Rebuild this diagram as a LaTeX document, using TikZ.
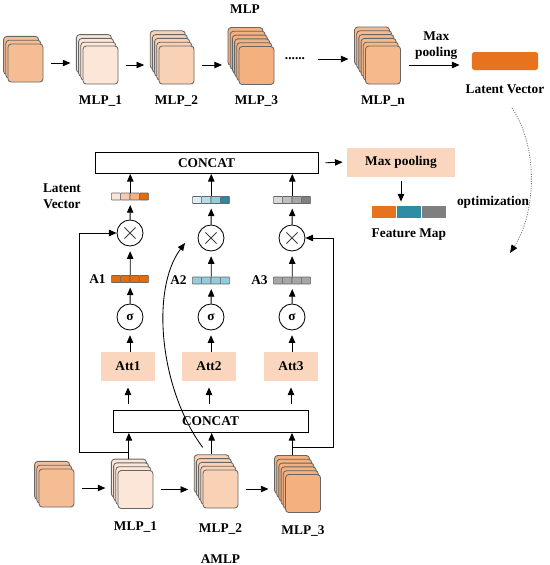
\documentclass[tikz,border=0pt]{standalone}
\usepackage{fontspec}
\setmainfont{Liberation Serif}
\usetikzlibrary{positioning,arrows.meta,calc}
\definecolor{pch0}{HTML}{F5BD94}
\definecolor{pch1}{HTML}{FBE6D8}
\definecolor{pch2}{HTML}{F9D2B6}
\definecolor{pch3}{HTML}{F4B07F}
\definecolor{pchn}{HTML}{F6B98C}
\definecolor{att}{HTML}{FAD6BE}
\definecolor{org}{HTML}{E8731F}
\definecolor{tea}{HTML}{2F8CA5}
\definecolor{gry}{HTML}{7F7F7F}
\definecolor{o1}{HTML}{FBE5D6}
\definecolor{o2}{HTML}{F8CBAD}
\definecolor{o3}{HTML}{F4B183}
\definecolor{o4}{HTML}{E46C0A}
\definecolor{b1}{HTML}{DAEEF3}
\definecolor{b2}{HTML}{B7DEE8}
\definecolor{b3}{HTML}{92CDDC}
\definecolor{b4}{HTML}{31859C}
\definecolor{g1}{HTML}{D9D9D9}
\definecolor{g2}{HTML}{BFBFBF}
\definecolor{g3}{HTML}{A6A6A6}
\definecolor{g4}{HTML}{808080}
\tikzset{
  lyr/.style={draw=black!60, rounded corners=0.8mm, minimum width=8.75mm, minimum height=9.5mm, inner sep=0pt},
  cel/.style={draw=black!60, line width=0.4pt, rounded corners=0.15mm, minimum width=2.325mm, minimum height=1.75mm, inner sep=0pt},
  seg/.style={minimum width=6mm, minimum height=3mm, inner sep=0pt},
  blk/.style={draw, minimum height=5.25mm, inner sep=2pt},
  soft/.style={fill=att, minimum height=7.25mm, inner sep=2pt},
  op/.style={draw, circle, minimum size=6.5mm, inner sep=0pt},
  mul/.style={op, path picture={\draw[black!75]
    ([shift={(-1.4mm,-1.4mm)}]path picture bounding box.center) -- ([shift={(1.4mm,1.4mm)}]path picture bounding box.center)
    ([shift={(-1.4mm,1.4mm)}]path picture bounding box.center) -- ([shift={(1.4mm,-1.4mm)}]path picture bounding box.center);}},
  arr/.style={-{Triangle[length=1.9mm,width=1.6mm]}},
  gap/.style={arr, shorten >=1.2mm},
  flow/.style={arr, shorten <=2mm, shorten >=1.4mm}}
\newcommand{\pile}[5]{%
  \foreach \k in {#4,...,1}
    \node[lyr, fill=#5] at (#2-2.2*\k,#3-3.8*\k) {};
  \node[lyr, fill=#5] (#1) at (#2,#3) {};
  \node[lyr, draw=none] (#1b) at (#2-2.2*#4,#3-3.8*#4) {};}
\newcommand{\cells}[4]{%
  \foreach \c [count=\i] in {#4}
    \node[cel, fill=\c] (#1-\i) at (#2+9.3*\i-23.25,#3) {};}

\begin{document}
\begin{tikzpicture}[x=0.25mm, y=-0.25mm, line width=0.6pt, font=\fontsize{9.5}{11.5}\selectfont\bfseries]
\useasboundingbox (0,0) rectangle (550,565);
\node (ttl) at (245,9) {MLP};
\pile{in0}{25.5}{63}{2}{pch0}
\pile{m1}{100.5}{65}{3}{pch1}
\pile{m2}{176.5}{65}{4}{pch2}
\pile{m3}{256.5}{65.5}{5}{pch3}
\node (dts) at (295,59) {......};
\pile{mn}{383}{65}{5}{pchn}
\node[below=1.5mm of m1] (lm1) {MLP\_1};
\node[below=1.5mm of m2] (lm2) {MLP\_2};
\node[below=1.5mm of m3] (lm3) {MLP\_3};
\node[below=1.5mm of mn] (lmn) {MLP\_n};
\draw[flow] (in0.east) -- (in0.east -| m1b.west);
\draw[flow] (m1.east) -- (m1.east -| m2b.west);
\draw[flow] (m2.east) -- (m2.east -| m3b.west);
\draw[flow] (dts.east) -- (dts.east -| mnb.west);
\node[fill=org, rounded corners=0.6mm, minimum width=16.5mm, minimum height=4.5mm] (lat) at (505,61) {};
\draw[arr, shorten <=2mm, shorten >=3mm] (mn.east) -- (mn.east -| lat.west) node[midway, above, align=center] (mxp) {Max\\pooling};
\node[below=2.2mm of lat] (latv) {Latent Vector};
\coordinate (oa) at (512,108);
\coordinate (ob) at (510,253);
\draw[draw=black!50, dash pattern=on 0.8pt off 0.9pt, -{Triangle[length=2mm,width=1.6mm,black]}] (oa) .. controls (540,150) and (535,215) .. (ob);
\node (opt) at (493,202) {optimization};

\node[blk, minimum width=55.75mm] (cct) at (206.5,163) {CONCAT};
\node[soft, minimum width=27mm] (mp) at (401,162) {Max pooling};
\draw[arr, shorten <=1.75mm, shorten >=1mm] (cct.east) -- (mp.west);
\node[seg, fill=org] (f1) at (384,212) {};
\node[seg, fill=tea, right=0pt of f1] (f2) {};
\node[seg, fill=gry, right=0pt of f2] (f3) {};
\draw[arr, shorten <=1mm, shorten >=1mm] (mp.south) -- (mp.south |- f2.north);
\node[below=1.3mm of f2] (fmap) {Feature Map};
\node[align=center] (lvl) at (62,196) {Latent\\Vector};

\cells{t1}{130}{196.5}{o1,o2,o3,o4}
\cells{t2}{211}{200}{b1,b2,b3,b4}
\cells{t3}{292}{200}{g1,g2,g3,g4}
\node[mul] (x1) at (130,233) {};
\node[mul] (x2) at (211,238) {};
\node[mul] (x3) at (292,238) {};
\cells{a1}{130}{279}{o4,o4,o4,o4}
\cells{a2}{211}{280.5}{b3,b3,b3,b3}
\cells{a3}{292}{280.5}{g3,g3,g3,g3}
\node[left=0.1mm of a1-1] (la1) {A1};
\node[left=0.1mm of a2-1] (la2) {A2};
\node[left=0.1mm of a3-1] (la3) {A3};
\node[op] (s1) at (130,317) {σ};
\node[op] (s2) at (211,317) {σ};
\node[op] (s3) at (292,317) {σ};
\node[soft, minimum width=13.5mm] (at1) at (128,366.5) {Att1};
\node[soft, minimum width=13.5mm] (at2) at (209,366.5) {Att2};
\node[soft, minimum width=13.5mm] (at3) at (291,366.5) {Att3};
\node[blk, minimum width=48.75mm, minimum height=5.5mm] (ccb) at (210.5,421.5) {CONCAT};
\foreach \i in {1,2,3} {
  \draw[arr] (t\i-2.north east) -- (t\i-2.north east |- cct.south);
  \draw[gap] (x\i) -- (t\i-2.south east);
  \draw[gap] (a\i-2.north east) -- (x\i);
  \draw[gap] (s\i) -- (a\i-2.south east);
  \draw[gap] (at\i.north -| s\i) -- (s\i);
  \draw[arr, shorten <=1.5mm, shorten >=1.5mm] (at\i.south |- ccb.north) -- (at\i.south);
}

\pile{bin}{56.5}{488}{2}{pch0}
\pile{bm1}{135.5}{489.5}{3}{pch1}
\pile{bm2}{220.5}{489}{4}{pch2}
\pile{bm3}{303}{493.5}{5}{pch3}
\draw[flow] (bin.east) -- (bin.east -| bm1b.west);
\draw[flow] (bm1.east) -- (bm1.east -| bm2b.west);
\draw[flow] (bm2.east) -- (bm2.east -| bm3b.west);
\draw[arr] (bm1b.north) -- (bm1b.north |- ccb.south);
\draw[arr] (bm2b.north) -- (bm2b.north |- ccb.south);
\draw[arr] (bm3b.north) -- (bm3b.north |- ccb.south);
\draw[arr] ($(bm1b.north)+(0,-6)$) -| ($(x1.west)+(-37,0)$) -- (x1.west);
\draw[arr] ($(bm3b.north)+(0,-8)$) -| ($(x3.east)+(28,0)$) -- (x3.east);
\coordinate (cv) at (185,243);
\draw[arr] ($(bm2b.north)+(-9,-7)$) .. controls (160,390) and (150,290) .. (cv);
\node[below=2mm of bm1] (lb1) {MLP\_1};
\node[below=2.5mm of bm2] (lb2) {MLP\_2};
\node[below=2mm of bm3] (lb3) {MLP\_3};
\node[below=2.5mm of lb2] (amlp) {AMLP};
\end{tikzpicture}
\end{document}
